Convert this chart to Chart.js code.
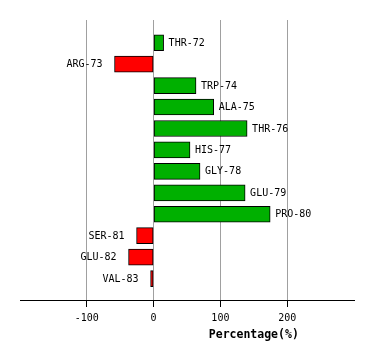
<!DOCTYPE html>
<html>
<head>
<meta charset="utf-8">
<script src="https://cdn.jsdelivr.net/npm/chart.js@4"></script>
<style>
  html, body { margin: 0; padding: 0; background: #fff; }
  canvas { display: block; }
</style>
</head>
<body>
<canvas id="c" width="374" height="360"></canvas>
<script>
const categories = ['THR-72','ARG-73','TRP-74','ALA-75','THR-76','HIS-77','GLY-78','GLU-79','PRO-80','SER-81','GLU-82','VAL-83'];
const percentages = [15, -58.5, 63.5, 90, 140, 54.5, 69.5, 137, 174.5, -25.5, -37.5, -4.5];
const xTickValues = [-100, 0, 100, 200];
const axisTitle = 'Percentage(%)';

const points = percentages.map((v, i) => ({ x: v, y: i }));
const colors = percentages.map(v => v >= 0 ? '#00b000' : '#ff0000');

const barLabels = {
  id: 'barLabels',
  afterDatasetsDraw(chart) {
    const ctx = chart.ctx;
    const meta = chart.getDatasetMeta(0);
    ctx.save();
    ctx.font = '10px "DejaVu Sans Mono"';
    ctx.fillStyle = '#000';
    ctx.textBaseline = 'middle';
    meta.data.forEach((bar, i) => {
      const v = percentages[i];
      if (v >= 0) {
        ctx.textAlign = 'left';
        ctx.fillText(categories[i], bar.x + 5, bar.y + 0.5);
      } else {
        ctx.textAlign = 'right';
        ctx.fillText(categories[i], bar.x - 12, bar.y + 0.5);
      }
    });
    ctx.restore();
  },
  afterDraw(chart) {
    const ctx = chart.ctx;
    const xs = chart.scales.x;
    ctx.save();
    ctx.font = 'bold 11.5px "DejaVu Sans Mono"';
    ctx.fillStyle = '#000';
    ctx.textAlign = 'center';
    ctx.textBaseline = 'middle';
    ctx.fillText(axisTitle, xs.getPixelForValue(150), 335.5);
    ctx.restore();
  }
};

new Chart(document.getElementById('c'), {
  type: 'bar',
  data: {
    datasets: [{
      data: points,
      backgroundColor: colors,
      borderColor: '#000',
      borderWidth: 1,
      borderSkipped: false,
      barThickness: 16
    }]
  },
  options: {
    indexAxis: 'y',
    responsive: false,
    animation: false,
    devicePixelRatio: 1,
    layout: { padding: { left: 20, right: 20, top: 20, bottom: 0 } },
    plugins: { legend: { display: false }, tooltip: { enabled: false }, title: { display: false } },
    scales: {
      y: {
        type: 'linear',
        display: false,
        reverse: true,
        offset: false,
        min: -1.06,
        max: 12
      },
      x: {
        type: 'linear',
        min: -200,
        max: 300,
        afterBuildTicks: s => { s.ticks = xTickValues.map(v => ({ value: v })); },
        afterFit: s => { s.height = 60; },
        grid: { color: '#a0a0a0', tickColor: '#000', tickLength: 7, lineWidth: 1 },
        border: { display: true, color: '#000', width: 1 },
        ticks: {
          color: '#000',
          font: { family: 'DejaVu Sans Mono', size: 10 },
          padding: 5,
          maxRotation: 0,
          autoSkip: false
        }
      }
    }
  },
  plugins: [barLabels]
});
</script>
</body>
</html>
